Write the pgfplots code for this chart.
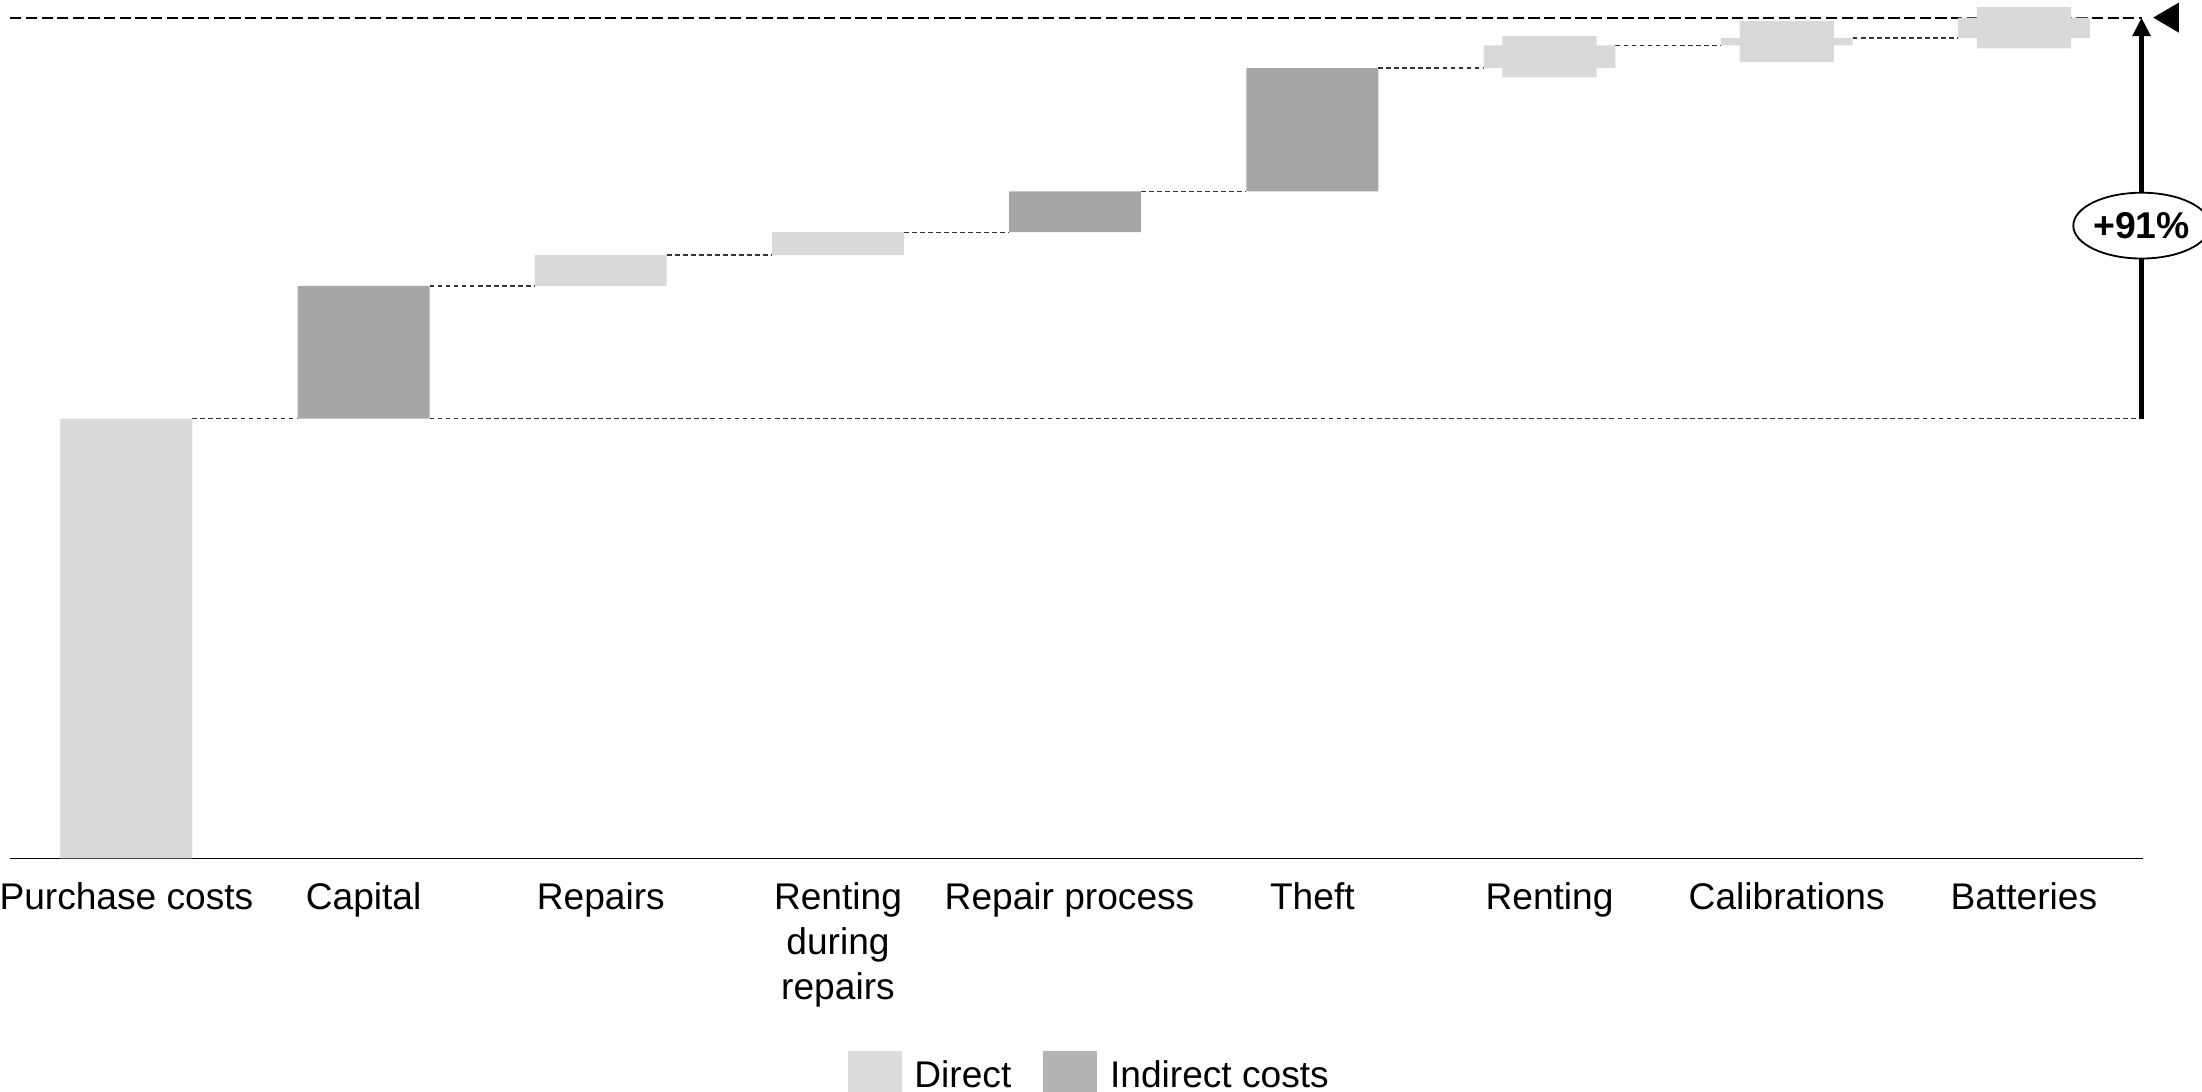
\documentclass[border=0pt]{standalone}
\usepackage{pgfplots}
\pgfplotsset{compat=1.18}
\usepackage{pgfplotstable}
\usepackage{fontspec}
\setmainfont{Liberation Sans}
\usetikzlibrary{arrows.meta,shapes.geometric}

\definecolor{direct}{HTML}{D9D9D9}
\definecolor{indirect}{HTML}{A6A6A6}
\definecolor{legDirect}{HTML}{DCDBDD}
\definecolor{legIndirect}{HTML}{B4B3B6}

% waterfall steps: base = level where the step starts, then its size
\pgfplotstableread{
x base direct indirect
0 0     100 0
1 100   0   30.2
2 130.2 7.0 0
3 137.2 5.2 0
4 142.4 0   9.3
5 151.7 0   28.0
6 179.7 5.2 0
7 184.9 1.7 0
8 186.6 4.6 0
}\steps

% narrow caps drawn over the three smallest steps
\pgfplotstableread{
x base  height
6 177.6 9.4
7 181.05 9.4
8 184.2 9.4
}\caps

% dotted connectors between neighbouring bars
\pgfplotstableread{
x y
0.278 100
0.722 100
nan nan
1.278 100
8.496 100
nan nan
1.278 130.2
1.722 130.2
nan nan
2.278 137.2
2.722 137.2
nan nan
3.278 142.4
3.722 142.4
nan nan
4.278 151.7
4.722 151.7
nan nan
5.278 179.7
5.722 179.7
nan nan
6.278 184.9
6.722 184.9
nan nan
7.278 186.6
7.722 186.6
}\links

\newcommand{\lblfont}{\fontsize{9.25pt}{11.2pt}\selectfont}

\pgfplotsset{
  wf/.style={
    scale only axis, width=531.3pt, height=209.5pt,
    xmin=-0.49, xmax=8.5, ymin=0, ymax=191.2,
    clip=false, at={(0,0)}, anchor=south west,
  },
}

\begin{document}
\begin{tikzpicture}

% connectors and the total line
\begin{axis}[wf, hide axis]
  \addplot[black!80, line width=0.35pt, dash pattern=on 1.2pt off 0.8pt,
           unbounded coords=jump, mark=none] table[x=x,y=y]{\links};
  \addplot[black, line width=0.55pt, dash pattern=on 2.8pt off 1.1pt, mark=none]
    coordinates {(-0.49,191.2) (8.496,191.2)};
  \coordinate (bbsw) at (axis cs:-0.533,-53.04);
  \coordinate (bbne) at (axis cs:8.751,195.21);
\end{axis}

% the cost steps
\begin{axis}[wf,
  ybar stacked, bar width=0.556,
  axis x line*=bottom, axis y line=none,
  x axis line style={-, line width=0.45pt, black},
  xtick={0,...,8}, ytick=\empty, major tick length=0pt,
  xticklabels={Purchase costs,Capital,Repairs,{Renting\\during\\repairs},{\hspace*{-2.8pt}Repair process},Theft,Renting,Calibrations,Batteries},
  xticklabel style={font=\lblfont, align=center, inner sep=0pt, anchor=north, yshift=-5.8pt},
  legend columns=2,
  legend style={at={(0.5056,-0.2606)}, anchor=center, draw=none, fill=none,
    font=\lblfont, inner sep=0pt, nodes={inner sep=0pt},
    /tikz/every odd column/.append style={column sep=3.2pt},
    /tikz/every even column/.append style={column sep=8pt}},
]
  \addlegendimage{legend image code/.code={\fill[legDirect] (0pt,-6.5pt) rectangle (13pt,6.5pt);}}
  \addlegendentry{Direct}
  \addlegendimage{legend image code/.code={\fill[legIndirect] (0pt,-6.5pt) rectangle (13pt,6.5pt);}}
  \addlegendentry{Indirect costs}
  \addplot[draw=none, fill=none] table[x=x,y=base]{\steps};
  \addplot[draw=none, fill=direct] table[x=x,y=direct]{\steps};
  \addplot[draw=none, fill=indirect] table[x=x,y=indirect]{\steps};
\end{axis}

% narrow caps and the overall increase
\begin{axis}[wf, hide axis, ybar stacked, bar width=0.397]
  \addplot[draw=none, fill=none] table[x=x,y=base]{\caps};
  \addplot[draw=none, fill=direct] table[x=x,y=height]{\caps};
  \coordinate (base) at (axis cs:8.496,100);
  \coordinate (topend) at (axis cs:8.496,191.2);
  \coordinate (pct) at (axis cs:8.496,143.9);
\end{axis}

\draw[line width=1.25pt, -{Triangle[length=4.6pt,width=4.3pt]}] (base) -- (topend);
\node[ellipse, draw=black, line width=0.45pt, fill=white, inner sep=0pt,
      minimum width=29.3pt, minimum height=16.4pt, font=\fontsize{9.3pt}{11pt}\selectfont\bfseries]
  at (pct) {+91\%};
\fill[black] ([xshift=2.9pt]topend) -- ++(6.4pt,3.75pt) -- ++(0pt,-7.5pt) -- cycle;

\pgfresetboundingbox
\useasboundingbox (bbsw) rectangle (bbne);
\end{tikzpicture}
\end{document}
